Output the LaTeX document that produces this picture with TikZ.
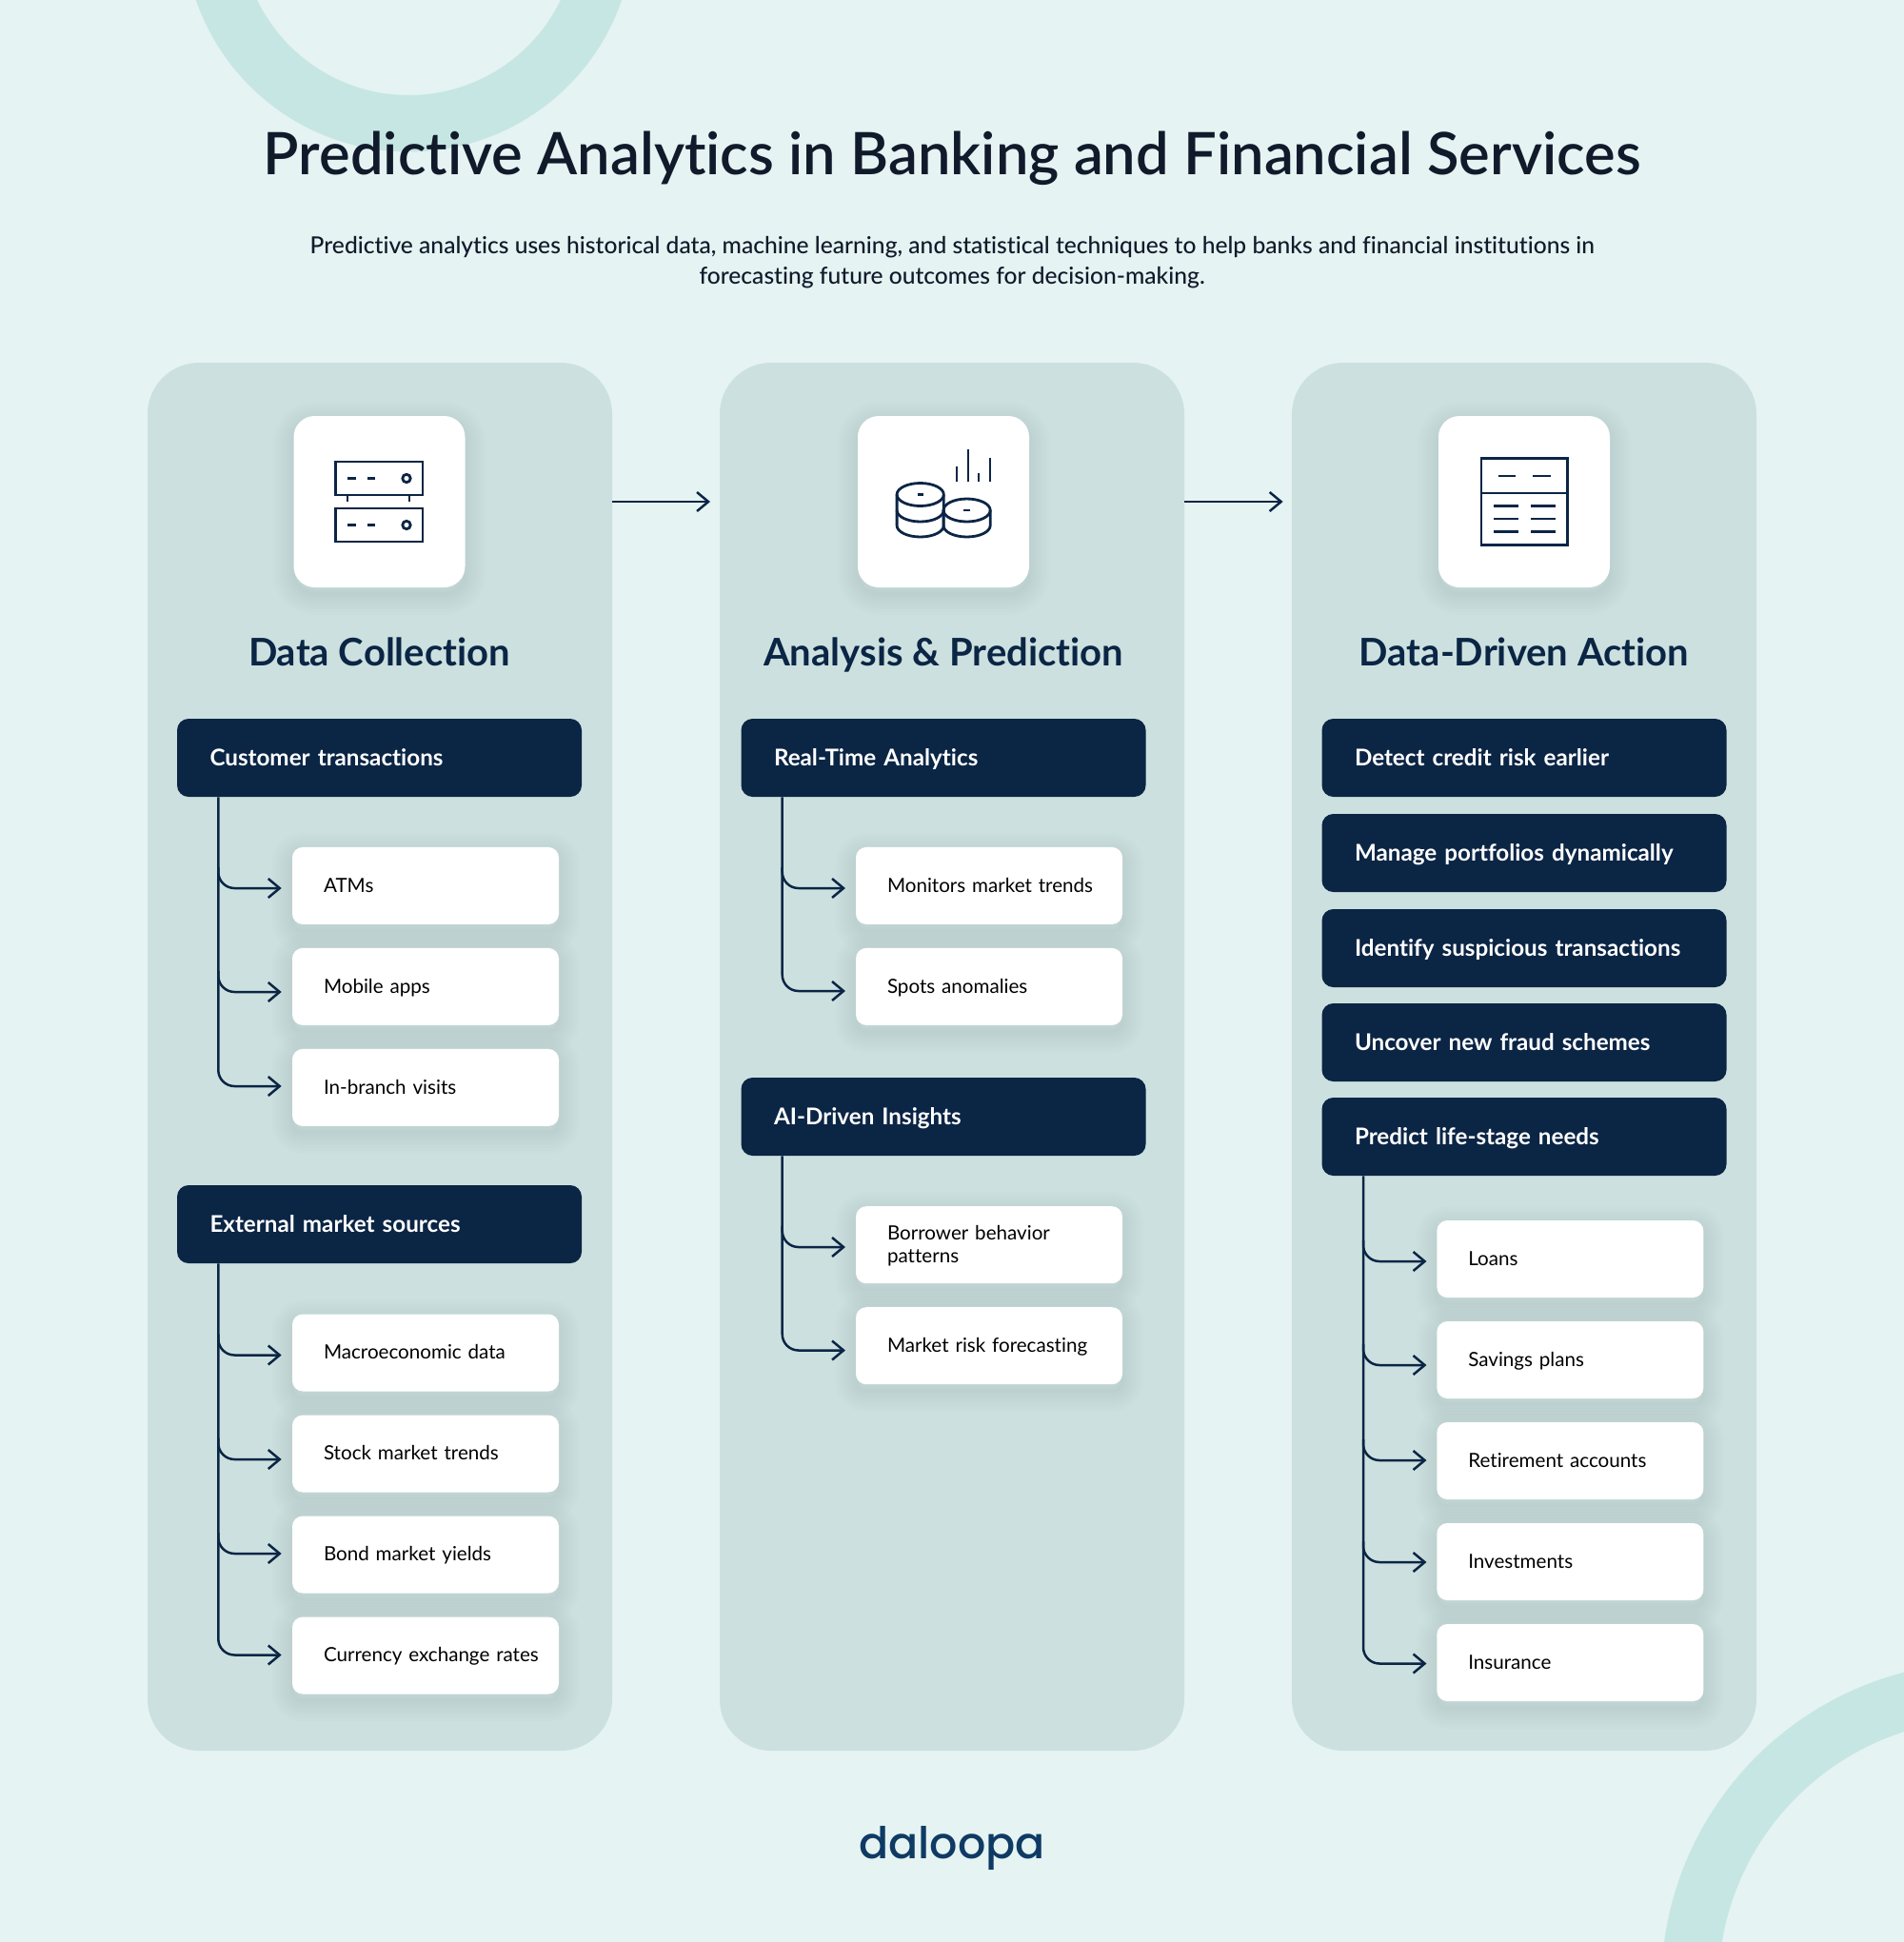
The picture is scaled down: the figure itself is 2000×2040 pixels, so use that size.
\documentclass[tikz,border=0pt]{standalone}
\usepackage{fontspec}
\setmainfont{Lato}[Ligatures=NoCommon]
\newfontfamily\medfont{Lato Medium}[Ligatures=NoCommon]
\newfontfamily\semifont{Lato Semibold}[Ligatures=NoCommon]
\newfontfamily\boldfont{Lato Bold}[Ligatures=NoCommon]
\newfontfamily\logofont{Poppins Medium}
\usetikzlibrary{arrows.meta}
\definecolor{bgc}{HTML}{E5F3F2}
\definecolor{panelc}{HTML}{CCE1DF}
\definecolor{ringc}{HTML}{C6E6E3}
\definecolor{navy}{HTML}{0B2545}
\definecolor{inkc}{HTML}{111A2B}
\definecolor{logoc}{HTML}{0F3A64}
\tikzset{
  x=0.5pt,y=-0.5pt,
  panel/.style={fill=panelc,rounded corners=27pt},
  sh/.style={preaction={draw=black,draw opacity=.009,line width=#1,transform canvas={yshift=-3.5pt}}},
  softshadow/.style={sh=22pt,sh=19pt,sh=16pt,sh=13pt,sh=10pt,sh=7pt,sh=4pt,sh=1.5pt},
  iconbox/.style={fill=white,rounded corners=11pt,minimum width=90pt,minimum height=90pt,inner sep=0pt,softshadow},
  head/.style={fill=navy,text=white,rounded corners=6pt,minimum width=212.5pt,minimum height=41pt,text width=178pt,align=left,inner sep=0pt,font=\fontsize{12.1}{14.5}\boldfont,execute at begin node={\rule[-2.6pt]{0pt}{13.2pt}}},
  sub/.style={fill=white,text=black,rounded corners=5.5pt,minimum width=140pt,minimum height=40.5pt,text width=119pt,align=left,inner sep=0pt,font=\fontsize{10.3}{11.7}\selectfont,softshadow,execute at begin node={\leftskip=6pt\relax\rule[-2.5pt]{0pt}{11.9pt}},execute at end node={\rule[-2.5pt]{0pt}{1pt}}},
  coltitle/.style={text=navy,anchor=base,font=\fontsize{20}{24}\boldfont,inner sep=0pt},
  line/.style={draw=navy,line width=1.25pt},
  arrowline/.style={line,-{Straight Barb[length=6pt,width=10pt,line width=1.25pt]}},
  icon/.style={draw=navy,line width=1.4pt},
  thin icon/.style={draw=navy,line width=1.05pt},
}
\newcommand{\branch}[2]{\draw[arrowline,rounded corners=8.5pt] ([yshift=11pt]#1 -| #2) -- (#1 -| #2) -- (#1);}
\begin{document}
\begin{tikzpicture}
\useasboundingbox (0,0) rectangle (2000,2040);
\fill[bgc] (0,0) rectangle (2000,2040);
\begin{scope}
\clip (0,0) rectangle (2000,2040);
\fill[ringc,even odd rule] (429.5,-77) circle[radius=236.5] (429.5,-77) circle[radius=177];
\fill[ringc,even odd rule] (2085,2086) circle[radius=340] (2085,2086) circle[radius=280];
\end{scope}
\node (title) at (1000,183) [anchor=base,text=inkc,font=\fontsize{30.74}{36}\semifont,inner sep=0pt] {Predictive Analytics in Banking and Financial Services};
\node (subt) at (1000,276) [text=inkc,align=center,font=\fontsize{12.3}{15.9}\medfont,inner sep=0pt] {Predictive analytics uses historical data, machine learning, and statistical techniques to help banks and financial institutions in\\forecasting future outcomes for decision-making.};
% panels
\fill[panel] (155,381) rectangle (643,1839);
\fill[panel] (756,381) rectangle (1244,1839);
\fill[panel] (1357,381) rectangle (1845,1839);
\coordinate (p1r) at (643,527);
\coordinate (p2l) at (746,527);
\coordinate (p2r) at (1244,527);
\coordinate (p3l) at (1347.6,527);
\draw[arrowline] (p1r) -- (p2l);
\draw[arrowline] (p2r) -- (p3l);
% icon boxes
\node[iconbox] (ib1) at (398.5,527) {};
\node[iconbox] (ib2) at (991,527) {};
\node[iconbox] (ib3) at (1601,527) {};
% server icon
\draw[icon] (352.5,485) rectangle (444,520);
\draw[icon] (352.5,534) rectangle (444,569);
\draw[icon] (365,520)--(365,527) (430,520)--(430,527);
\draw[icon] (365,502.5)--(373.5,502.5) (386,502.5)--(394,502.5) (365,551.5)--(373.5,551.5) (386,551.5)--(394,551.5);
\draw[icon] (427,502.5) circle[radius=4.2] (427,551.5) circle[radius=4.2];
% coins icon
\draw[icon] (966.7,519.5) ellipse[x radius=24.6,y radius=12];
\draw[icon] (942.1,519.5)--(942.1,552) arc[start angle=180,end angle=0,x radius=24.6,y radius=12]--(991.3,519.5);
\draw[icon] (942.1,536) arc[start angle=180,end angle=0,x radius=24.6,y radius=12];
\draw[icon] (1015.6,536) ellipse[x radius=24.6,y radius=12];
\draw[icon] (991,536)--(991,552) arc[start angle=180,end angle=0,x radius=24.6,y radius=12]--(1040.2,536);
\draw[thin icon] (1004.8,490)--(1004.8,506) (1016.6,471.7)--(1016.6,506) (1027.8,496.7)--(1027.8,506) (1039.6,481)--(1039.6,506);
\draw[icon] (963.5,519.7)--(970,519.7) (1012,536)--(1018.8,536);
% table icon
\draw[icon] (1556,481.3) rectangle (1646.5,572.7);
\draw[icon] (1556,518)--(1646.5,518);
\draw[icon] (1573.6,500)--(1592.4,500) (1610,500)--(1629,500);
\draw[icon] (1569.4,531.7)--(1595,531.7) (1608,531.7)--(1633.6,531.7);
\draw[icon] (1569.4,545)--(1595,545) (1608,545)--(1633.6,545);
\draw[icon] (1569.4,558.7)--(1595,558.7) (1608,558.7)--(1633.6,558.7);
% column titles
\node[coltitle] (t1) at (398.5,699) {Data Collection};
\node[coltitle] (t2) at (991,699) {Analysis \& Prediction};
\node[coltitle] (t3) at (1601,699) {Data-Driven Action};
% trunk positions
\coordinate (tx1) at (229.3,0);
\coordinate (tx2) at (821.7,0);
\coordinate (tx3) at (1432,0);
% column 1
\node[head] (h11) at (398.5,796) {Customer transactions};
\node[sub] (s111) at (447,930.4) {ATMs};
\node[sub] (s112) at (447,1036.4) {Mobile apps};
\node[sub] (s113) at (447,1142.4) {In-branch visits};
\node[head] (h12) at (398.5,1286) {External market sources};
\node[sub] (s121) at (447,1421) {Macroeconomic data};
\node[sub] (s122) at (447,1527) {Stock market trends};
\node[sub] (s123) at (447,1633) {Bond market yields};
\node[sub] (s124) at (447,1739) {Currency exchange rates};
\foreach \n/\yy in {a1/933,a2/1042,a3/1141,b1/1423.5,b2/1533,b3/1632,b4/1738.5}{\coordinate (\n) at (295.7,\yy);}
\draw[arrowline,rounded corners=8.5pt] (h11.south -| tx1) -- (a3 -| tx1) -- (a3);
\branch{a1}{tx1}\branch{a2}{tx1}
\draw[arrowline,rounded corners=8.5pt] (h12.south -| tx1) -- (b4 -| tx1) -- (b4);
\branch{b1}{tx1}\branch{b2}{tx1}\branch{b3}{tx1}
% column 2
\node[head] (h21) at (991,796) {Real-Time Analytics};
\node[sub] (s211) at (1039,930.4) {Monitors market trends};
\node[sub] (s212) at (1039,1036.4) {Spots anomalies};
\node[head] (h22) at (991,1173) {AI-Driven Insights};
\node[sub] (s221) at (1039,1307.7) {Borrower behavior\\patterns};
\node[sub] (s222) at (1039,1413.7) {Market risk forecasting};
\foreach \n/\yy in {c1/933,c2/1041,d1/1310,d2/1418.5}{\coordinate (\n) at (888,\yy);}
\draw[arrowline,rounded corners=8.5pt] (h21.south -| tx2) -- (c2 -| tx2) -- (c2);
\branch{c1}{tx2}
\draw[arrowline,rounded corners=8.5pt] (h22.south -| tx2) -- (d2 -| tx2) -- (d2);
\branch{d1}{tx2}
% column 3
\node[head] (h31) at (1601,796) {Detect credit risk earlier};
\node[head] (h32) at (1601,896) {Manage portfolios dynamically};
\node[head] (h33) at (1601,996) {Identify suspicious transactions};
\node[head] (h34) at (1601,1095) {Uncover new fraud schemes};
\node[head] (h35) at (1601,1194) {Predict life-stage needs};
\node[sub] (s31) at (1649.3,1322.5) {Loans};
\node[sub] (s32) at (1649.3,1428.5) {Savings plans};
\node[sub] (s33) at (1649.3,1534.5) {Retirement accounts};
\node[sub] (s34) at (1649.3,1640.5) {Investments};
\node[sub] (s35) at (1649.3,1746.5) {Insurance};
\foreach \n/\yy in {e1/1325,e2/1434,e3/1534,e4/1641,e5/1747.5}{\coordinate (\n) at (1498.5,\yy);}
\draw[arrowline,rounded corners=8.5pt] (h35.south -| tx3) -- (e5 -| tx3) -- (e5);
\branch{e1}{tx3}\branch{e2}{tx3}\branch{e3}{tx3}\branch{e4}{tx3}
% logo
\node (logo) at (1000,1952) [anchor=base,text=logoc,font=\fontsize{23}{28}\logofont,inner sep=0pt] {daloopa};
\end{tikzpicture}
\end{document}
